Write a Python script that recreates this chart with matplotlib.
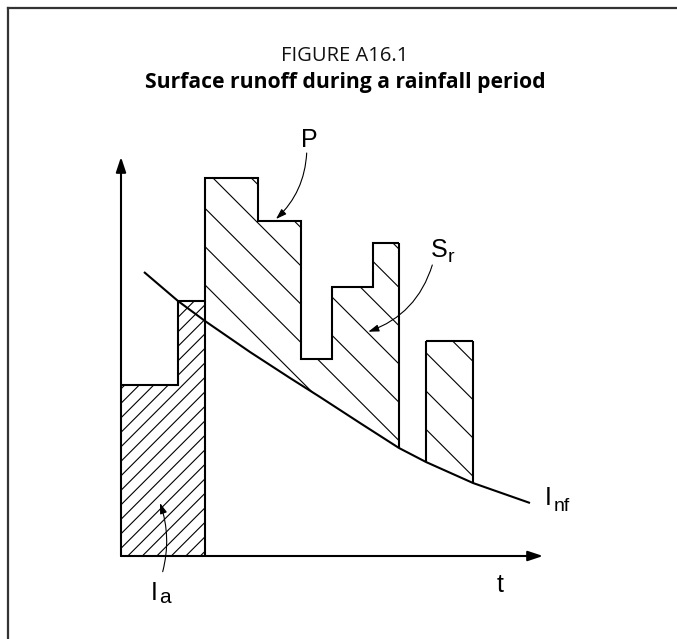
import numpy as np
import matplotlib
matplotlib.use("Agg")
import matplotlib.pyplot as plt
from matplotlib.patches import Polygon
from matplotlib.collections import LineCollection
from matplotlib.lines import Line2D

# rainfall intensity P (step bars), time units arbitrary
bar_left = [0.0, 5.7, 8.4, 13.7, 18.0, 21.1, 25.2, 30.5]
bar_right = [5.7, 8.4, 13.7, 18.0, 21.1, 25.2, 27.8, 35.2]
bar_height = [17.1, 25.5, 37.8, 33.5, 19.7, 26.9, 31.3, 21.5]

# infiltration capacity curve I_nf
infil_t = [2.3, 5.7, 8.4, 12.9, 16.9, 19.9, 23.9, 27.8, 30.5, 35.2, 40.9]
infil_v = [28.4, 25.5, 23.5, 20.4, 17.8, 15.9, 13.3, 10.8, 9.4, 7.3, 5.3]

# bars that make up the initial abstraction I_a, and the runoff blocks S_r
ia_bars = [0, 1]
sr_blocks = [[2, 3, 4, 5, 6], [7]]

title_top = "FIGURE A16.1"
title_main = "Surface runoff during a rainfall period"

LABEL_FONT = ["Liberation Sans", "DejaVu Sans"]
TITLE_FONT = ["Open Sans", "DejaVu Sans"]


def step_verts(idx):
    v = []
    for i in idx:
        v.append((bar_left[i], bar_height[i]))
        v.append((bar_right[i], bar_height[i]))
    return v


def curve_at(t):
    return infil_v[infil_t.index(t)]


def hatch(ax, verts, slope, step, phase, lw=0.8):
    poly = Polygon(verts, closed=True, fc="none", ec="none")
    ax.add_patch(poly)
    xs = [p[0] for p in verts]
    ys = [p[1] for p in verts]
    x0, x1 = min(xs), max(xs)
    y0, y1 = min(ys), max(ys)
    # lines y = slope * x + c
    cands = [y - slope * x for x in (x0, x1) for y in (y0, y1)]
    k0 = int(np.floor((min(cands) - phase) / step)) - 1
    k1 = int(np.ceil((max(cands) - phase) / step)) + 1
    segs = []
    for k in range(k0, k1 + 1):
        c = phase + k * step
        segs.append([(x0 - 1, slope * (x0 - 1) + c), (x1 + 1, slope * (x1 + 1) + c)])
    lc = LineCollection(segs, colors="black", linewidths=lw)
    lc.set_clip_path(poly)
    ax.add_collection(lc)


fig = plt.figure(figsize=(6.77, 6.39), dpi=100)
ax = fig.add_axes([0, 0, 1, 1])
ax.set_xlim(-12.1, 55.6)
ax.set_ylim(-8.3, 55.6)
ax.axis("off")

# frame of the figure box (only left and top edges visible)
fx = 8 / 677
fy = 1 - 8 / 639
fig.add_artist(Line2D([fx, fx], [0, fy], color="#333333", lw=1.6))
fig.add_artist(Line2D([fx, 1], [fy, fy], color="#333333", lw=1.6))

# titles
fig.text(344.5 / 677, 1 - 61 / 639, title_top, ha="center", va="baseline",
         fontsize=14.5, family=TITLE_FONT, color="#111111")
fig.text(345 / 677, 1 - 88 / 639, title_main, ha="center", va="baseline",
         fontsize=15.2, family=TITLE_FONT, fontweight="bold", color="#000000")

# hatched initial abstraction
ia_verts = [(bar_left[ia_bars[0]], 0)] + step_verts(ia_bars) + [(bar_right[ia_bars[-1]], 0)]
hatch(ax, ia_verts, 1.0, 1.45, 15.27)

# hatched surface runoff (between P and infiltration curve)
for blk in sr_blocks:
    t0 = bar_left[blk[0]]
    t1 = bar_right[blk[-1]]
    inner = [(t, v) for t, v in zip(infil_t, infil_v) if t0 < t < t1]
    verts = [(t0, curve_at(t0))] + step_verts(blk) + [(t1, curve_at(t1))] + inner[::-1]
    hatch(ax, verts, -1.0, 3.83, 43.17)

# P outline
main_edges = bar_left[:7] + [bar_right[6]]
ax.stairs(bar_height[:7], main_edges, baseline=None, color="black", lw=1.5)
ax.stairs(bar_height[7:], [bar_left[7], bar_right[7]], baseline=None, color="black", lw=1.5)
ax.vlines(bar_right[1], 0, bar_height[1], color="black", lw=1.5)
ax.vlines(bar_right[6], curve_at(bar_right[6]), bar_height[6], color="black", lw=1.5)
ax.vlines(bar_left[7], curve_at(bar_left[7]), bar_height[7], color="black", lw=1.5)
ax.vlines(bar_right[7], curve_at(bar_right[7]), bar_height[7], color="black", lw=1.5)

# infiltration curve
ax.plot(infil_t, infil_v, color="black", lw=1.5, solid_capstyle="butt")

# axes with arrows
axis_style = "-|>,head_length=0.6,head_width=0.2"
ax.annotate("", xy=(0, 39.9), xytext=(0, 0),
            arrowprops=dict(arrowstyle=axis_style, color="black", lw=1.5,
                            mutation_scale=15, shrinkA=0, shrinkB=0))
ax.annotate("", xy=(42.2, 0), xytext=(0, 0),
            arrowprops=dict(arrowstyle=axis_style, color="black", lw=1.5,
                            mutation_scale=15, shrinkA=0, shrinkB=0))

# labels
lab = dict(family=LABEL_FONT, color="black", va="baseline")
ax.text(18.8, 40.9, "P", fontsize=18, ha="center", **lab)
ax.text(31.0, 29.9, "S", fontsize=18, ha="left", **lab)
ax.text(32.7, 29.4, "r", fontsize=14, ha="left", **lab)
ax.text(42.4, 5.1, "I", fontsize=18, ha="left", **lab)
ax.text(43.3, 4.5, "nf", fontsize=14, ha="left", **lab)
ax.text(37.6, -3.6, "t", fontsize=18, ha="left", **lab)
ax.text(3.0, -4.4, "I", fontsize=18, ha="left", **lab)
ax.text(3.8, -4.7, "a", fontsize=15, ha="left", **lab)

# pointer arrows
ptr = dict(arrowstyle="-|>,head_length=0.45,head_width=0.15", color="black",
           lw=0.8, mutation_scale=14, shrinkA=0, shrinkB=0)
ax.annotate("", xy=(15.5, 33.7), xytext=(18.57, 40.3),
            arrowprops=dict(connectionstyle="arc3,rad=-0.2", **ptr))
ax.annotate("", xy=(24.73, 22.43), xytext=(31.13, 29.1),
            arrowprops=dict(connectionstyle="arc3,rad=-0.25", **ptr))
ax.annotate("", xy=(3.9, 5.3), xytext=(4.17, -1.57),
            arrowprops=dict(connectionstyle="arc3,rad=0.15", **ptr))

fig.savefig("out.png", dpi=100, facecolor="white")
